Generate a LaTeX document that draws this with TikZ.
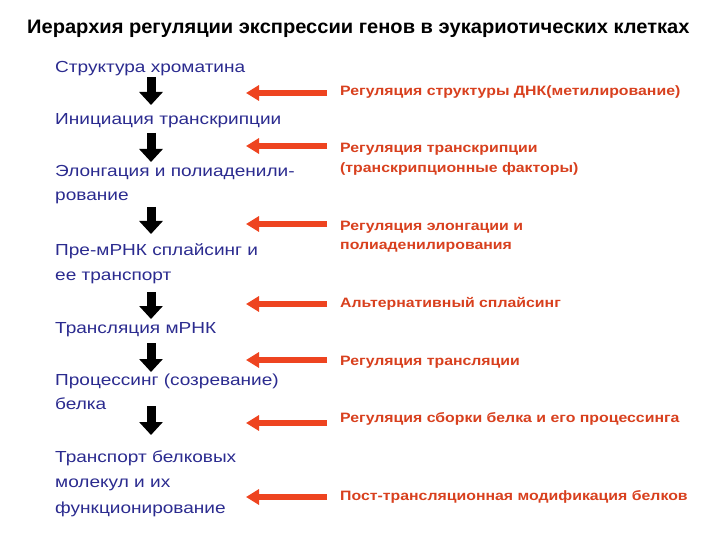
\documentclass[tikz,border=0pt]{standalone}
\usepackage{fontspec}
\setmainfont{Liberation Sans}
\newfontfamily\titlefont[FakeStretch=1.03]{Liberation Sans}
\newfontfamily\widesans[FakeStretch=1.19]{Liberation Sans}
\newfontfamily\redsans[FakeStretch=1.165]{Liberation Sans}
\usetikzlibrary{arrows.meta}
\definecolor{txtblue}{HTML}{2B2B8F}
\definecolor{txtred}{HTML}{D8401E}
\definecolor{arrred}{HTML}{EE4420}
\begin{document}
\begin{tikzpicture}[x=1pt,y=-1pt,
  titletext/.style={anchor=base west,inner sep=0pt,font=\titlefont\fontsize{19.5}{22}\selectfont\bfseries},
  stage/.style={anchor=base west,inner sep=0pt,text=txtblue,font=\widesans\fontsize{16}{19}\selectfont},
  reg/.style={anchor=base west,inner sep=0pt,text=txtred,font=\redsans\fontsize{13.6}{16}\selectfont\bfseries},
  downarrow/.style={line width=9pt,-{Triangle[width=23pt,length=13pt]}},
  regarrow/.style={arrred,line width=6pt,-{Triangle[width=15pt,length=13pt]}}]
\useasboundingbox (0,0) rectangle (720,540);
\node[titletext] (title) at (27,34) {Иерархия регуляции экспрессии генов в эукариотических клетках};
% stages
\node[stage] (s1) at (55,73) {Структура хроматина};
\node[stage] (s2) at (55,125) {Инициация транскрипции};
\node[stage] (s3a) at (55,177) {Элонгация и полиаденили-};
\node[stage] (s3b) at (55,201) {рование};
\node[stage] (s4a) at (55,255) {Пре-мРНК сплайсинг и};
\node[stage] (s4b) at (55,280) {ее транспорт};
\node[stage] (s5) at (55,333) {Трансляция мРНК};
\node[stage] (s6a) at (55,385) {Процессинг (созревание)};
\node[stage] (s6b) at (55,409) {белка};
\node[stage] (s7a) at (55,462) {Транспорт белковых};
\node[stage] (s7b) at (55,487) {молекул и их};
\node[stage] (s7c) at (55,513) {функционирование};
% regulation texts
\node[reg] (r1) at (340,96) {Регуляция структуры ДНК(метилирование)};
\node[reg] (r2a) at (340,153) {Регуляция транскрипции};
\node[reg] (r2b) at (340,173) {(транскрипционные факторы)};
\node[reg] (r3a) at (340,230) {Регуляция элонгации и};
\node[reg] (r3b) at (340,249) {полиаденилирования};
\node[reg] (r4) at (340,307) {Альтернативный сплайсинг};
\node[reg] (r5) at (340,365) {Регуляция трансляции};
\node[reg] (r6) at (340,422) {Регуляция сборки белка и его процессинга};
\node[reg] (r7) at (340,500) {Пост-трансляционная модификация белков};
% black arrow ends
\foreach \i/\ya/\yb in {1/77/105,2/133/162,3/207/234,4/292/319,5/343/372,6/406/435}{
  \coordinate (d\i s) at (151,\ya);
  \coordinate (d\i e) at (151,\yb);
}
\foreach \i in {1,...,6}{\draw[downarrow] (d\i s) -- (d\i e);}
% red arrow ends
\foreach \i/\y in {1/93,2/146,3/224,4/304,5/360,6/423,7/497}{
  \coordinate (g\i s) at (327,\y);
  \coordinate (g\i e) at (246,\y);
}
\foreach \i in {1,...,7}{\draw[regarrow] (g\i s) -- (g\i e);}
\end{tikzpicture}
\end{document}
